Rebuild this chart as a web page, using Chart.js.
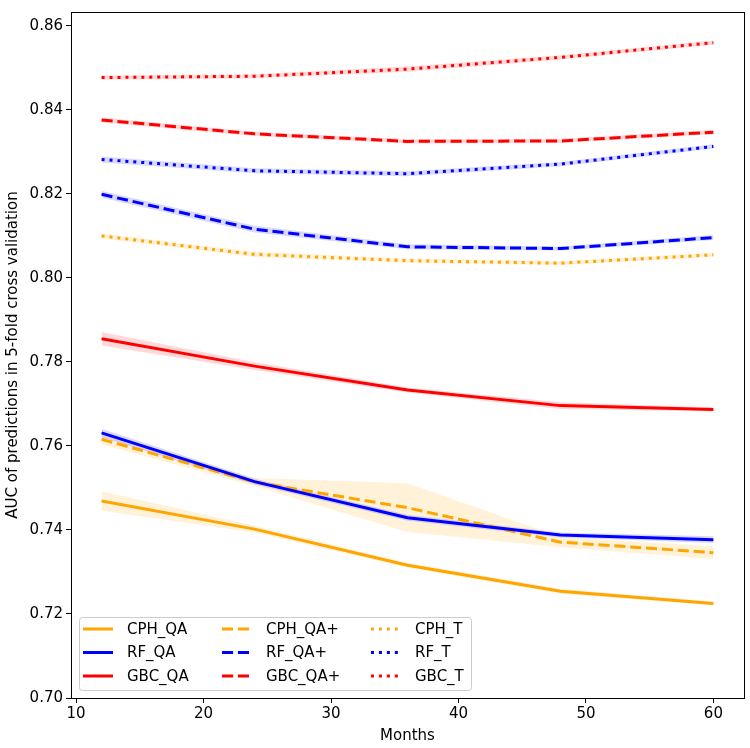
<!DOCTYPE html>
<html>
<head>
<meta charset="utf-8">
<script src="https://cdn.jsdelivr.net/npm/chart.js@4.4.1/dist/chart.umd.min.js"></script>
<style>
  html, body { margin: 0; padding: 0; background: #fff; }
  #wrap { width: 750px; height: 748px; }
</style>
</head>
<body>
<div id="wrap"><canvas id="myChart" width="750" height="748"></canvas></div>
<script>
// Months on the x axis
var months = [12, 24, 36, 48, 60];
var xTicks = [10, 20, 30, 40, 50, 60];
var yTicks = [0.70, 0.72, 0.74, 0.76, 0.78, 0.80, 0.82, 0.84, 0.86];

// Mean AUC per model / feature set
var cphQA     = [0.7469, 0.7402, 0.7316, 0.7254, 0.7225];
var rfQA      = [0.7631, 0.7515, 0.7429, 0.7388, 0.7377];
var gbcQA     = [0.7855, 0.7790, 0.7733, 0.7696, 0.7687];
var cphQAplus = [0.7616, 0.7514, 0.7453, 0.7371, 0.7346];
var rfQAplus  = [0.8199, 0.8116, 0.8074, 0.8070, 0.8096];
var gbcQAplus = [0.8376, 0.8343, 0.8325, 0.8326, 0.8347];
var cphT      = [0.8100, 0.8056, 0.8041, 0.8035, 0.8055];
var rfT       = [0.8282, 0.8255, 0.8248, 0.8271, 0.8313];
var gbcT      = [0.8477, 0.8480, 0.8497, 0.8525, 0.8560];

// Half width of the shaded band around each line
var cphQAsd     = [0.0023, 0.0008, 0.0006, 0.0006, 0.0005];
var rfQAsd      = [0.0010, 0.0007, 0.0007, 0.0006, 0.0008];
var gbcQAsd     = [0.0016, 0.0009, 0.0006, 0.0008, 0.0005];
var cphQAplusSd = [0.0012, 0.0010, 0.0058, 0.0012, 0.0015];
var rfQAplusSd  = [0.0008, 0.0008, 0.0006, 0.0005, 0.0006];
var gbcQAplusSd = [0.0006, 0.0005, 0.0005, 0.0005, 0.0005];
var cphTsd      = [0.0006, 0.0006, 0.0005, 0.0005, 0.0005];
var rfTsd       = [0.0007, 0.0006, 0.0006, 0.0005, 0.0005];
var gbcTsd      = [0.0005, 0.0005, 0.0006, 0.0005, 0.0005];

var corLaranja = 'rgb(255, 165, 0)';
var corAzul = 'rgb(0, 0, 255)';
var corVermelho = 'rgb(255, 0, 0)';

var tracejado = [11.1, 4.8];
var pontilhado = [3, 4.95];

// legend order (column by column, like matplotlib ncol=3)
var series = [
    {label: 'CPH_QA',  data: cphQA,     sd: cphQAsd,     color: corLaranja,  dash: []},
    {label: 'RF_QA',   data: rfQA,      sd: rfQAsd,      color: corAzul,     dash: []},
    {label: 'GBC_QA',  data: gbcQA,     sd: gbcQAsd,     color: corVermelho, dash: []},
    {label: 'CPH_QA+', data: cphQAplus, sd: cphQAplusSd, color: corLaranja,  dash: tracejado},
    {label: 'RF_QA+',  data: rfQAplus,  sd: rfQAplusSd,  color: corAzul,     dash: tracejado},
    {label: 'GBC_QA+', data: gbcQAplus, sd: gbcQAplusSd, color: corVermelho, dash: tracejado},
    {label: 'CPH_T',   data: cphT,      sd: cphTsd,      color: corLaranja,  dash: pontilhado},
    {label: 'RF_T',    data: rfT,       sd: rfTsd,       color: corAzul,     dash: pontilhado},
    {label: 'GBC_T',   data: gbcT,      sd: gbcTsd,      color: corVermelho, dash: pontilhado}
];

function pontos(valores) {
    return valores.map(function(v, i) { return {x: months[i], y: v}; });
}

function faixa(s, sinal) {
    return s.data.map(function(v, i) { return {x: months[i], y: v + sinal * s.sd[i]}; });
}

function transparente(cor, alfa) {
    return cor.replace('rgb(', 'rgba(').replace(')', ', ' + alfa + ')');
}

var datasets = [];
// shaded bands first (lower + upper filled to lower)
series.forEach(function(s) {
    datasets.push({
        label: s.label + ' low', data: faixa(s, -1),
        borderWidth: 0, pointRadius: 0, fill: false, order: 2
    });
    datasets.push({
        label: s.label + ' high', data: faixa(s, 1),
        borderWidth: 0, pointRadius: 0, fill: '-1', order: 2,
        backgroundColor: transparente(s.color, 0.15)
    });
});
series.forEach(function(s) {
    datasets.push({
        label: s.label, data: pontos(s.data),
        borderColor: s.color, borderWidth: 3, borderDash: s.dash,
        pointRadius: 0, fill: false, tension: 0, order: 1
    });
});

// frame around the plot area
var molduraPlugin = {
    id: 'moldura',
    afterDraw: function(chart) {
        var ctx = chart.ctx, a = chart.chartArea;
        ctx.save();
        ctx.strokeStyle = '#000';
        ctx.lineWidth = 1;
        ctx.strokeRect(Math.round(a.left) + 0.5, Math.round(a.top) + 0.5,
            Math.round(a.right - a.left), Math.round(a.bottom - a.top));
        ctx.restore();
    }
};

// matplotlib style legend, lower left inside the plot, 3 columns
var legendaPlugin = {
    id: 'legenda',
    afterDraw: function(chart) {
        var ctx = chart.ctx, a = chart.chartArea;
        var x0 = a.left + 8, y0 = a.bottom - 81;
        ctx.save();
        ctx.fillStyle = 'rgba(255, 255, 255, 0.8)';
        ctx.strokeStyle = '#cccccc';
        ctx.lineWidth = 1;
        ctx.beginPath();
        ctx.roundRect(x0 + 0.5, y0 + 0.5, 392, 73, 3);
        ctx.fill();
        ctx.stroke();

        var colunas = [a.left + 12, a.left + 151, a.left + 300];
        var linhas = [a.bottom - 69, a.bottom - 45.5, a.bottom - 22];
        ctx.font = '15px "DejaVu Sans"';
        ctx.textBaseline = 'middle';
        series.forEach(function(s, i) {
            var cx = colunas[Math.floor(i / 3)];
            var cy = linhas[i % 3];
            ctx.strokeStyle = s.color;
            ctx.lineWidth = 3;
            ctx.setLineDash(s.dash);
            ctx.beginPath();
            ctx.moveTo(cx, cy);
            ctx.lineTo(cx + 30, cy);
            ctx.stroke();
            ctx.setLineDash([]);
            ctx.fillStyle = '#000';
            ctx.fillText(s.label, cx + 44, cy + 1);
        });
        ctx.restore();
    }
};

Chart.defaults.font.family = '"DejaVu Sans"';
Chart.defaults.font.size = 15;
Chart.defaults.color = '#000';

var ctx = document.getElementById('myChart').getContext('2d');
var myChart = new Chart(ctx, {
    type: 'line',
    data: { datasets: datasets },
    plugins: [molduraPlugin, legendaPlugin],
    options: {
        responsive: false,
        animation: false,
        layout: { padding: { top: 6, right: 6, left: 0, bottom: 0 } },
        plugins: {
            legend: { display: false },
            tooltip: { enabled: false },
            filler: { drawTime: 'beforeDatasetsDraw' }
        },
        scales: {
            x: {
                type: 'linear',
                min: 9.6,
                max: 62.4,
                afterBuildTicks: function(scale) {
                    scale.ticks = xTicks.map(function(v) { return {value: v}; });
                },
                afterFit: function(scale) { scale.height = 50; },
                grid: { drawOnChartArea: false, tickLength: 5, color: '#000' },
                border: { display: true, color: '#000' },
                ticks: { padding: 2, maxRotation: 0 },
                title: { display: true, text: 'Months', padding: { top: 0, bottom: 3 } }
            },
            y: {
                type: 'linear',
                min: 0.70,
                max: 0.8633,
                afterBuildTicks: function(scale) {
                    scale.ticks = yTicks.map(function(v) { return {value: v}; });
                },
                afterFit: function(scale) { scale.width = 71; },
                grid: { drawOnChartArea: false, tickLength: 5, color: '#000' },
                border: { display: true, color: '#000' },
                ticks: {
                    padding: 3,
                    callback: function(v) { return Number(v).toFixed(2); }
                },
                title: {
                    display: true,
                    text: 'AUC of predictions in 5-fold cross validation',
                    padding: { top: 4, bottom: 0 }
                }
            }
        }
    }
});
</script>
</body>
</html>
